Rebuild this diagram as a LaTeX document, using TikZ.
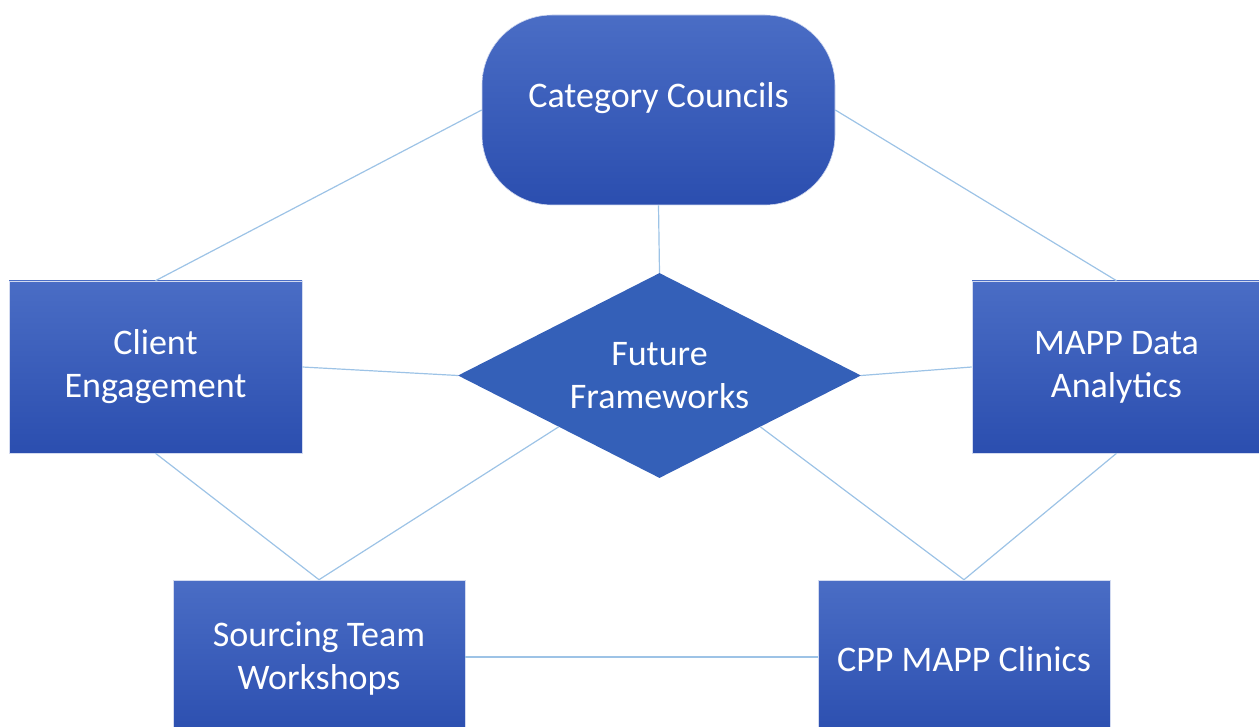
\documentclass[tikz,border=0pt]{standalone}
\usepackage{fontspec}
\setmainfont{Carlito}
\usepackage{tikz}
\usetikzlibrary{shapes}
\usetikzlibrary{shapes.geometric}

\definecolor{boxtop}{HTML}{4A6DC5}
\definecolor{boxbottom}{HTML}{2B4EAF}
\definecolor{diamondblue}{HTML}{3460B8}
\definecolor{linkblue}{HTML}{9DC3E6}

\begin{document}
\begin{tikzpicture}[x=1pt, y=-1pt,
        box_style/.style={rectangle,draw=white!75!boxtop,line width=0.6pt,top color=boxtop,bottom color=boxbottom,
            text=white,align=center,font=\fontsize{36}{43}\selectfont,inner sep=0pt},
        council_style/.style={box_style,rounded corners=70pt,minimum width=353pt,minimum height=190pt,text depth=30pt},
        diamond_style/.style={diamond,aspect=2,fill=diamondblue,text=white,align=center,
            font=\fontsize{36}{43}\selectfont,inner sep=0pt,minimum width=403pt,minimum height=205pt},
        edge_style/.style={draw=linkblue, line width=1.2pt}]

        \useasboundingbox (0,0) rectangle (1259,727);
        \clip (0,0) rectangle (1259,727);

        \node [council_style](cc) at (658.5,110) {Category Councils};

        \node [box_style,minimum width=293pt,minimum height=172pt](ce) at (155.5,367) {Client\\Engagement};

        \node [box_style,minimum width=289pt,minimum height=172pt](mapp) at (1116.5,367) {MAPP Data\\Analytics};

        \node [diamond_style](ff) at (659.5,375.5) {Future\\Frameworks};

        \node [box_style,minimum width=292pt,minimum height=158pt](stw) at (319,659) {Sourcing Team\\Workshops};

        \node [box_style,minimum width=292pt,minimum height=158pt](cpp) at (964,659) {CPP MAPP Clinics};

        \draw [edge_style] (cc.west) -- (ce.north);

        \draw [edge_style] (cc.east) -- (mapp.north);

        \draw [edge_style] (cc.south) -- (ff.north);

        \draw [edge_style] (ce.east) -- (ff.west);

        \draw [edge_style] (ff.east) -- (mapp.west);

        \draw [edge_style] (ce.south) -- (stw.north);

        \draw [edge_style] (ff.south west) -- (stw.north);

        \draw [edge_style] (ff.south east) -- (cpp.north);

        \draw [edge_style] (mapp.south) -- (cpp.north);

        \draw [edge_style] (stw.east |- 0,657) -- (cpp.west |- 0,657);

        \end{tikzpicture}
\end{document}
